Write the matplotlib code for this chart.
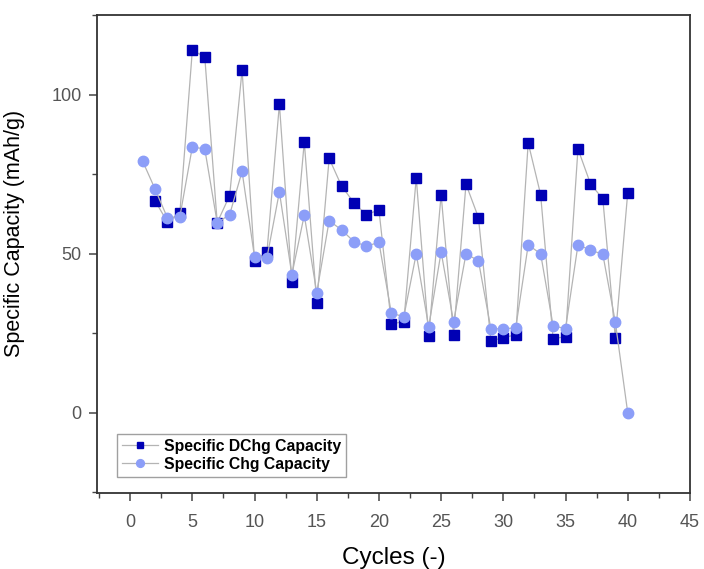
import matplotlib.pyplot as plt
from matplotlib.ticker import MultipleLocator

plt.rcParams['font.family'] = ['Liberation Sans', 'DejaVu Sans']

# Cycle numbers and capacities (mAh/g)
cycles_dchg = list(range(2, 41))
dchg = [66.7, 60.0, 62.9, 114.0, 112.0, 59.8, 68.3, 107.8, 47.8, 50.6,
        97.1, 41.2, 85.2, 34.6, 80.0, 71.3, 66.0, 62.2, 63.9, 28.0,
        28.6, 73.9, 24.0, 68.6, 24.5, 71.9, 61.4, 22.6, 23.6, 24.5,
        84.9, 68.6, 23.3, 23.9, 83.0, 72.1, 67.2, 23.6, 69.2]

cycles_chg = list(range(1, 41))
chg = [79.2, 70.4, 61.3, 61.7, 83.6, 83.0, 59.8, 62.3, 75.9, 49.0,
       48.8, 69.5, 43.4, 62.2, 37.7, 60.4, 57.5, 53.8, 52.4, 53.6,
       31.3, 30.2, 50.0, 27.0, 50.6, 28.6, 50.0, 47.8, 26.4, 26.4,
       26.7, 52.8, 50.0, 27.4, 26.4, 52.8, 51.2, 49.8, 28.6, 0.0]

dark_blue = '#0000B4'
light_blue = '#8C9EF8'
line_gray = '#B4B4B4'

fig = plt.figure(figsize=(7.04, 5.69), dpi=100)
ax = fig.add_axes([0.138, 0.134, 0.842, 0.840])

ax.plot(cycles_dchg, dchg, color=line_gray, linewidth=0.9, marker='s',
        markersize=6.5, markerfacecolor=dark_blue, markeredgecolor=dark_blue,
        label='Specific DChg Capacity', zorder=2)
ax.plot(cycles_chg, chg, color=line_gray, linewidth=0.9, marker='o',
        markersize=7.5, markerfacecolor=light_blue, markeredgecolor=light_blue,
        label='Specific Chg Capacity', zorder=3)

ax.set_xlim(-2.65, 45)
ax.set_ylim(-25.2, 125.2)
ax.xaxis.set_major_locator(MultipleLocator(5))
ax.xaxis.set_minor_locator(MultipleLocator(2.5))
ax.yaxis.set_major_locator(MultipleLocator(50))
ax.yaxis.set_minor_locator(MultipleLocator(25))

ax.tick_params(which='both', direction='out', color='#444444', top=False, right=False)
ax.tick_params(which='major', length=6, width=1.1, labelsize=13, labelcolor='#555555')
ax.tick_params(axis='x', which='major', pad=9)
ax.tick_params(axis='y', which='major', pad=5)
ax.tick_params(which='minor', length=3.5, width=1.0)
for sp in ax.spines.values():
    sp.set_color('#333333')
    sp.set_linewidth(1.3)

ax.set_xlabel('Cycles (-)', fontsize=17.5, labelpad=12)
ax.set_ylabel('Specific Capacity (mAh/g)', fontsize=15.5)
ax.yaxis.set_label_coords(-0.121, 0.542)

leg = ax.legend(loc='lower left', bbox_to_anchor=(0.034, 0.034), borderaxespad=0,
                prop={'weight': 'bold', 'size': 11.3}, fancybox=False,
                edgecolor='#888888', handlelength=2.3, borderpad=0.3,
                labelspacing=0.2, handletextpad=0.4, markerscale=0.75)
leg.get_frame().set_linewidth(1.0)

fig.savefig('out.png', dpi=100)
